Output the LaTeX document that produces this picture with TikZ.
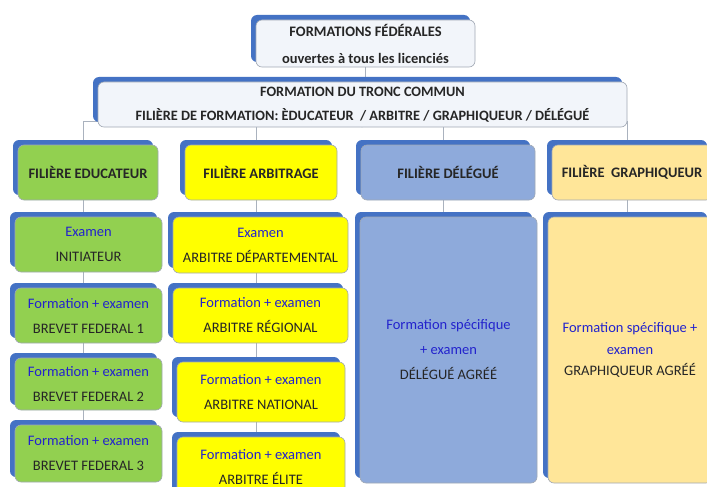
\documentclass[tikz,border=0pt]{standalone}
\usepackage{fontspec}
\setmainfont{Carlito}
\usetikzlibrary{shadows}
\definecolor{shblue}{RGB}{68,114,196}
\definecolor{edgegray}{RGB}{160,168,180}
\definecolor{topfill}{RGB}{242,245,250}
\definecolor{edugreen}{RGB}{146,208,80}
\definecolor{arbyellow}{RGB}{255,255,0}
\definecolor{delblue}{RGB}{142,170,219}
\definecolor{graorange}{RGB}{255,230,153}
\definecolor{txtblue}{RGB}{35,35,205}
\definecolor{linegray}{RGB}{170,178,190}
\pgfdeclarelayer{bg}
\pgfsetlayers{bg,main}
\tikzset{
  card/.style={rectangle, rounded corners=6pt, draw=edgegray, line width=0.6pt,
    align=center, inner sep=0pt, text=black!85,
    font=\fontsize{14.5}{25}\selectfont,
    copy shadow={shadow xshift=-5pt, shadow yshift=5pt, fill=shblue, draw=none}},
  conn/.style={draw=linegray, line width=0.8pt}
}
\newcommand{\bluet}[1]{\textcolor{txtblue}{#1}}
\begin{document}
\begin{tikzpicture}[x=1pt,y=-1pt]
\useasboundingbox (0,0) rectangle (707,487);
\begin{pgfonlayer}{bg}
\fill[white] (0,0) rectangle (707,487);
\end{pgfonlayer}
\begin{scope}
\clip (0,0) rectangle (707,487);
% top
\node[card, fill=topfill, minimum width=219pt, minimum height=47pt, font=\fontsize{14.5}{27}\selectfont] (top) at (365.5,43.5)
  {\textbf{FORMATIONS FÉDÉRALES}\\ \textbf{ouvertes à tous les licenciés}};
\node[card, fill=topfill, minimum width=529pt, minimum height=45pt, font=\fontsize{14.3}{24}\selectfont] (tronc) at (362.5,104.5)
  {\textbf{FORMATION DU TRONC COMMUN}\\ \textbf{FILIÈRE DE FORMATION: ÈDUCATEUR\ \ / ARBITRE / GRAPHIQUEUR / DÉLÉGUÉ}};
% filieres
\node[card, fill=edugreen, minimum width=140pt, minimum height=55pt] (edu) at (88,172.5) {\textbf{FILIÈRE EDUCATEUR}};
\node[card, fill=arbyellow, minimum width=152pt, minimum height=55pt] (arb) at (261,172.5) {\textbf{FILIÈRE ARBITRAGE}};
\node[card, fill=delblue, minimum width=174pt, minimum height=55pt] (del) at (448,172.5) {\textbf{FILIÈRE DÉLÉGUÉ}};
\node[card, fill=graorange, minimum width=160pt, minimum height=55pt] (gra) at (632,172.5) {\textbf{FILIÈRE\ \ GRAPHIQUEUR}};
% educateur column
\node[card, fill=edugreen, minimum width=147pt, minimum height=55pt] (init) at (88.5,244.5) {\bluet{Examen}\\ INITIATEUR};
\node[card, fill=edugreen, minimum width=147pt, minimum height=55pt] (bf1) at (88.5,315.5) {\bluet{Formation + examen}\\ BREVET FEDERAL 1};
\node[card, fill=edugreen, minimum width=147pt, minimum height=52pt] (bf2) at (88.5,384) {\bluet{Formation + examen}\\ BREVET FEDERAL 2};
\node[card, fill=edugreen, minimum width=147pt, minimum height=57pt] (bf3) at (88.5,453.5) {\bluet{Formation + examen}\\ BREVET FEDERAL 3};
% arbitrage column
\node[card, fill=arbyellow, minimum width=175pt, minimum height=56pt] (dep) at (260.5,245) {\bluet{Examen}\\ ARBITRE DÉPARTEMENTAL};
\node[card, fill=arbyellow, minimum width=175pt, minimum height=55pt] (reg) at (260.5,315.5) {\bluet{Formation + examen}\\ ARBITRE RÉGIONAL};
\node[card, fill=arbyellow, minimum width=168pt, minimum height=60pt] (nat) at (261,392) {\bluet{Formation + examen}\\ ARBITRE NATIONAL};
\node[card, fill=arbyellow, minimum width=168pt, minimum height=60pt] (eli) at (261,467) {\bluet{Formation + examen}\\ ARBITRE ÉLITE};
% big boxes
\node[card, fill=delblue, minimum width=177pt, minimum height=266pt, font=\fontsize{14.5}{25}\selectfont] (dag) at (448.5,350)
  {\bluet{Formation spécifique}\\ \bluet{+ examen}\\ DÉLÉGUÉ AGRÉÉ};
\node[card, fill=graorange, minimum width=164pt, minimum height=266pt, font=\fontsize{14.5}{21.5}\selectfont] (gag) at (630,350)
  {\bluet{Formation spécifique +}\\ \bluet{examen}\\ GRAPHIQUEUR AGRÉÉ};
\end{scope}
% connectors (behind the cards)
\begin{pgfonlayer}{bg}
\draw[conn] (top.south) -- (top.south |- tronc.north);
\coordinate (hl) at ([yshift=6pt]tronc.south);
\draw[conn] ([xshift=-0.5pt]tronc.south) -- (hl);
\draw[conn] ([xshift=-5pt]edu.north |- hl) -- ([xshift=-5pt]gra.north |- hl);
\draw[conn] ([xshift=-5pt]edu.north |- hl) -- ([xshift=-5pt]edu.north);
\draw[conn] ([xshift=-5pt]arb.north |- hl) -- ([xshift=-5pt]arb.north);
\draw[conn] ([xshift=-5pt]del.north |- hl) -- ([xshift=-5pt]del.north);
\draw[conn] ([xshift=-5pt]gra.north |- hl) -- ([xshift=-5pt]gra.north);
\draw[conn] ([xshift=-5pt]edu.south) -- ([xshift=-5pt]edu.south |- bf3.north);
\draw[conn] ([xshift=-5pt]arb.south) -- ([xshift=-5pt]arb.south |- eli.north);
\draw[conn] ([xshift=-5pt]del.south) -- ([xshift=-5pt]del.south |- dag.north);
\draw[conn] ([xshift=-5pt]gra.south) -- ([xshift=-5pt]gra.south |- gag.north);
\end{pgfonlayer}
\end{tikzpicture}
\end{document}
